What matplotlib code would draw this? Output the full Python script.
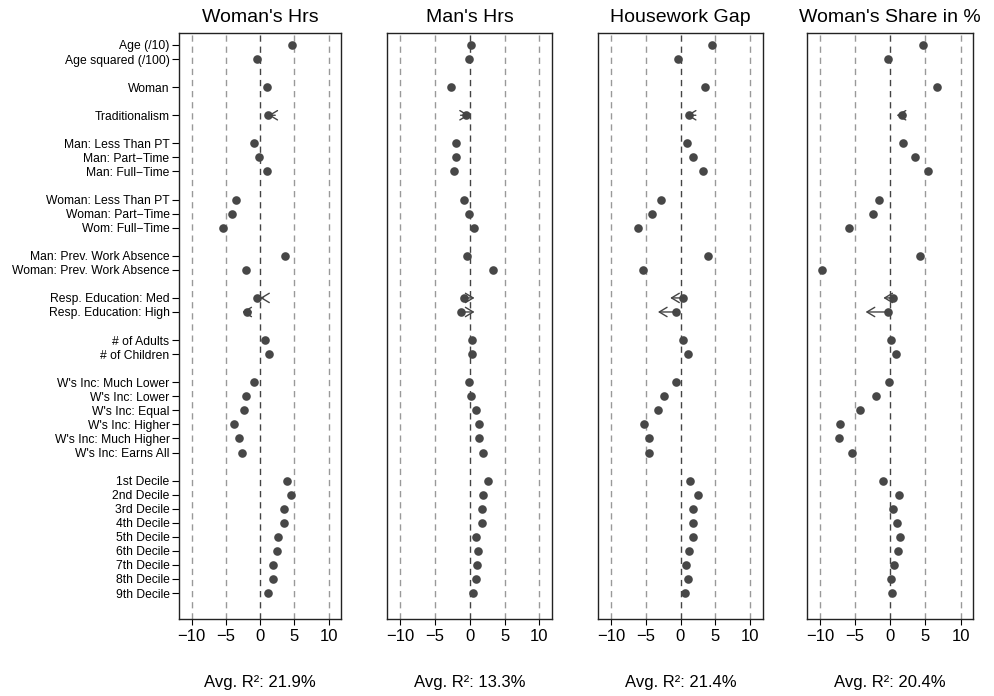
import matplotlib.pyplot as plt

plt.rcParams['font.family'] = ['Liberation Sans', 'DejaVu Sans']

# variable groups (a blank row separates groups)
groups = [
    ["Age (/10)", "Age squared (/100)"],
    ["Woman"],
    ["Traditionalism"],
    ["Man: Less Than PT", "Man: Part\u2212Time", "Man: Full\u2212Time"],
    ["Woman: Less Than PT", "Woman: Part\u2212Time", "Wom: Full\u2212Time"],
    ["Man: Prev. Work Absence", "Woman: Prev. Work Absence"],
    ["Resp. Education: Med", "Resp. Education: High"],
    ["# of Adults", "# of Children"],
    ["W's Inc: Much Lower", "W's Inc: Lower", "W's Inc: Equal", "W's Inc: Higher",
     "W's Inc: Much Higher", "W's Inc: Earns All"],
    ["1st Decile", "2nd Decile", "3rd Decile", "4th Decile", "5th Decile",
     "6th Decile", "7th Decile", "8th Decile", "9th Decile"],
]

titles = ["Woman's Hrs", "Man's Hrs", "Housework Gap", "Woman's Share in %"]
r2_labels = ["Avg. R\u00b2: 21.9%", "Avg. R\u00b2: 13.3%", "Avg. R\u00b2: 21.4%", "Avg. R\u00b2: 20.4%"]

womans_hrs = [4.66, -0.39, 0.97, 1.1, -0.97, -0.1, 0.97, -3.59, -4.08, -5.43,
              3.59, -2.04, -0.48, -1.9, 0.73, 1.36, -0.83, -2.09, -2.33, -3.83,
              -3.10, -2.58, 3.98, 4.46, 3.49, 3.54, 2.62, 2.52, 1.94, 1.94, 1.12]
mans_hrs = [0.14, -0.05, -2.64, -0.48, -1.97, -1.92, -2.31, -0.87, -0.05, 0.67,
            -0.38, 3.32, -0.82, -1.3, 0.29, 0.29, -0.14, 0.24, 0.87, 1.35,
            1.40, 1.88, 2.65, 1.88, 1.83, 1.83, 0.87, 1.25, 1.06, 0.87, 0.53]
gap_hrs = [4.54, -0.38, 3.54, 1.29, 0.96, 1.82, 3.25, -2.81, -4.15, -6.10,
           3.97, -5.39, 0.43, -0.62, 0.33, 1.05, -0.67, -2.34, -3.29, -5.29,
           -4.48, -4.48, 1.34, 2.58, 1.77, 1.82, 1.77, 1.29, 0.86, 1.05, 0.62]
share_pct = [4.65, -0.38, 6.69, 1.66, 1.81, 3.51, 5.31, -1.61, -2.51, -5.88,
             4.22, -9.76, 0.43, -0.38, 0.10, 0.86, -0.14, -2.04, -4.36, -7.11,
             -7.30, -5.50, -1.04, 1.19, 0.43, 0.90, 1.38, 1.04, 0.52, 0.05, 0.19]
panel_values = [womans_hrs, mans_hrs, gap_hrs, share_pct]

# arrows (alternative specification) for a few rows
arrow_rows = ["Traditionalism", "Resp. Education: Med", "Resp. Education: High"]
arrow_from = [[2.2, 0.5, -1.3], [-1.3, -0.82, -1.3], [2.2, 0.43, -0.62], [2.2, 0.43, -0.38]]
arrow_to = [[1.2, 0.0, -2.6], [-0.1, 0.7, 0.7], [0.9, -1.48, -3.24], [0.9, -0.99, -3.51]]

labels = []
positions = []
pos = 0
for g in groups:
    for name in g:
        labels.append(name)
        positions.append(pos)
        pos += 1
    pos += 1

W, H = 995, 696
fig = plt.figure(figsize=(W / 100, H / 100), dpi=100)
box_left = [179.3, 387.3, 598.3, 807.3]
box_right = [341, 552, 762.7, 973.3]
box_top, box_bottom = 32.7, 619.3
dot_col = '#474747'

for k in range(4):
    ax = fig.add_axes([box_left[k] / W, 1 - box_bottom / H,
                       (box_right[k] - box_left[k]) / W, (box_bottom - box_top) / H])
    for v in [-10, -5, 5, 10]:
        ax.axvline(v, color='#999999', lw=1, ls=(0, (4.5, 3.5)), zorder=1)
    ax.axvline(0, color='#444444', lw=1, ls=(0, (4.5, 3.5)), zorder=1)
    ax.plot(panel_values[k], positions, 'o', color=dot_col, ms=6.2, mec='none', zorder=3)
    for j, name in enumerate(arrow_rows):
        y = positions[labels.index(name)]
        ax.annotate('', xy=(arrow_to[k][j], y), xytext=(arrow_from[k][j], y),
                    arrowprops=dict(arrowstyle='->,head_length=0.4,head_width=0.24',
                                    mutation_scale=14, color='#444444', lw=1,
                                    shrinkA=0, shrinkB=0), zorder=4)
    ax.set_xlim(-11.8, 11.8)
    ax.set_ylim(positions[-1] + 1.87, -0.875)
    ax.set_xticks([-10, -5, 0, 5, 10])
    ax.tick_params(axis='x', labelsize=12, length=4.5, pad=2.5)
    if k == 0:
        ax.set_yticks(positions)
        ax.set_yticklabels(labels)
        ax.tick_params(axis='y', labelsize=8.7, length=5, pad=2)
    else:
        ax.set_yticks([])
    for s in ax.spines.values():
        s.set_linewidth(1)
        s.set_color('#222222')
    cx = (box_left[k] + box_right[k]) / 2 / W
    fig.text(cx, 1 - 18 / H, titles[k], ha='center', va='center', fontsize=14)
    fig.text(cx, 1 - 682 / H, r2_labels[k], ha='center', va='center', fontsize=12)

fig.savefig('out.png', dpi=100)
